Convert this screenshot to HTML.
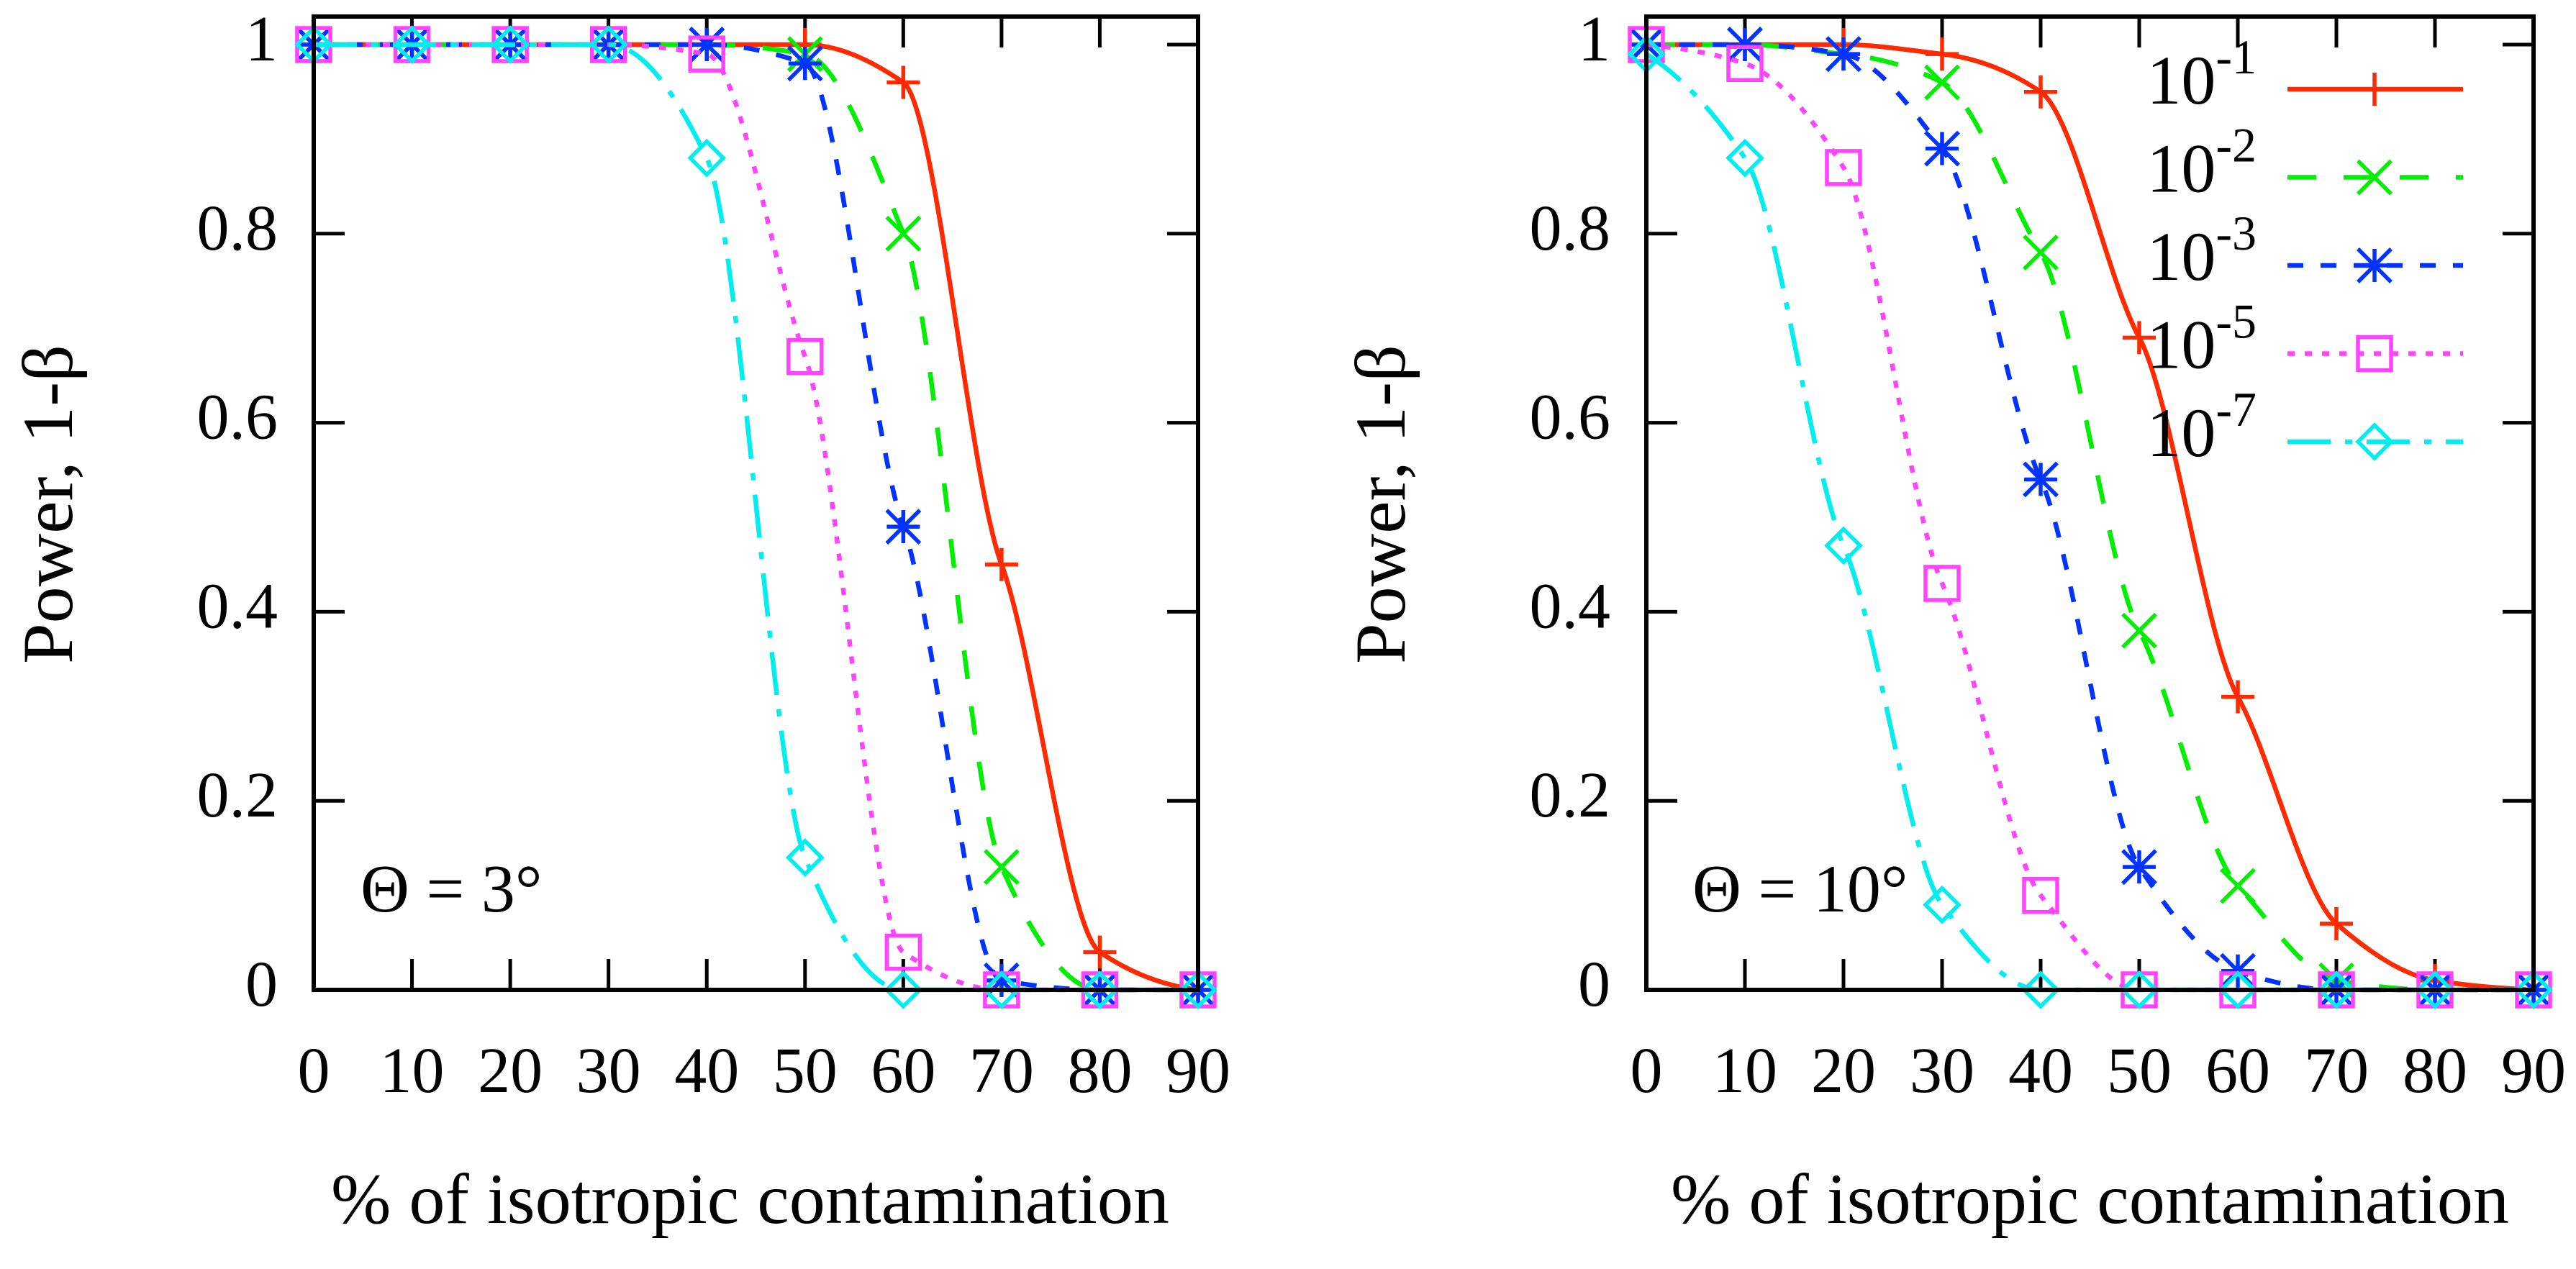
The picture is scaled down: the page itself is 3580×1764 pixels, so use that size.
<!DOCTYPE html>
<html><head><meta charset="utf-8"><style>
html,body{margin:0;padding:0;background:#fff}
svg{display:block}
text{font-family:"Liberation Serif",serif;fill:#000}
</style></head><body>
<svg id="chart" width="3580" height="1764" viewBox="0 0 3580 1764" xmlns="http://www.w3.org/2000/svg"></svg>
<script>
const categories=[0,10,20,30,40,50,60,70,80,90];
const yTicks=[0,0.2,0.4,0.6,0.8,1];
const yTickLabels=["0","0.2","0.4","0.6","0.8","1"];
const seriesNames=["10-1","10-2","10-3","10-5","10-7"];
const legendExps=["-1","-2","-3","-5","-7"];
const leftRed=[1,1,1,1,1,1,0.96,0.45,0.04,0];
const leftGreen=[1,1,1,1,1,0.99,0.80,0.13,0,0];
const leftBlue=[1,1,1,1,1,0.98,0.49,0.01,0,0];
const leftMagenta=[1,1,1,1,0.99,0.67,0.04,0,0,0];
const leftCyan=[1,1,1,1,0.88,0.14,0,0,0,0];
const rightRed=[1,1,1,0.99,0.95,0.69,0.31,0.07,0.01,0];
const rightGreen=[1,1,0.99,0.96,0.78,0.38,0.11,0.01,0,0];
const rightBlue=[1,1,0.99,0.89,0.54,0.13,0.02,0,0,0];
const rightMagenta=[1,0.98,0.87,0.43,0.10,0,0,0,0,0];
const rightCyan=[0.99,0.88,0.47,0.09,0,0,0,0,0,0];

const NS="http://www.w3.org/2000/svg";
const svg=document.getElementById('chart');
function mk(tag,attrs,parent){const e=document.createElementNS(NS,tag);for(const k in attrs)e.setAttribute(k,attrs[k]);(parent||svg).appendChild(e);return e;}
const colors=["#ff2a00","#00ee00","#0033ff","#ff44ff","#00eeee"];
const dashes=["none","40,38","22,24","10,14","60,20,10,20"];
const markers=["plus","cross","star","square","diamond"];

function marker(g,type,x,y,c){
  const s=23,a={stroke:c,'stroke-width':5.5,fill:'none'};
  let d;
  if(type==="plus")d=`M${x-s} ${y}H${x+s}M${x} ${y-s}V${y+s}`;
  else if(type==="cross")d=`M${x-s} ${y-s}L${x+s} ${y+s}M${x-s} ${y+s}L${x+s} ${y-s}`;
  else if(type==="star")d=`M${x-s} ${y}H${x+s}M${x} ${y-s}V${y+s}M${x-s} ${y-s}L${x+s} ${y+s}M${x-s} ${y+s}L${x+s} ${y-s}`;
  else if(type==="square")d=`M${x-s} ${y-s}H${x+s}V${y+s}H${x-s}Z`;
  else d=`M${x} ${y-s}L${x+s} ${y}L${x} ${y+s}L${x-s} ${y}Z`;
  const p=mk('path',Object.assign({d:d},a),g);
  
  
}
function smoothPath(pts){
  const n=pts.length,dx=[],m=[],t=[];
  for(let i=0;i<n-1;i++){dx[i]=pts[i+1][0]-pts[i][0];m[i]=(pts[i+1][1]-pts[i][1])/dx[i];}
  t[0]=m[0];t[n-1]=m[n-2];
  for(let i=1;i<n-1;i++){t[i]=(m[i-1]*m[i]<=0)?0:(m[i-1]+m[i])/2;}
  for(let i=0;i<n-1;i++){if(m[i]===0){t[i]=0;t[i+1]=0;continue;}const a=t[i]/m[i],b=t[i+1]/m[i],h=a*a+b*b;if(h>9){const tau=3/Math.sqrt(h);t[i]=tau*a*m[i];t[i+1]=tau*b*m[i];}}
  let d=`M${pts[0][0]} ${pts[0][1]}`;
  for(let i=0;i<n-1;i++){const h=dx[i]/3,k=0.6;d+=`C${pts[i][0]+h} ${pts[i][1]+t[i]*h*k} ${pts[i+1][0]-h} ${pts[i+1][1]-t[i+1]*h*k} ${pts[i+1][0]} ${pts[i+1][1]}`;}
  return d;
}
function panel(name,x0,x1,series,label,labelX){
  const top=23,bot=1376,y1=62;
  const X=v=>x0+(v-categories[0])/(categories[categories.length-1]-categories[0])*(x1-x0);
  const Y=v=>bot-v*(bot-y1);
  const g=mk('g',{});
  
  
  yTicks.forEach((v,i)=>{
    const y=Y(v);
    const t=mk('path',{d:`M${x0} ${y}h43M${x1} ${y}h-43`,stroke:'#000','stroke-width':5},g);
    
    
    const tx=mk('text',{x:x0-50,y:y+22,'font-size':90,'text-anchor':'end'},g);
    tx.textContent=yTickLabels[i];
    
    
  });
  categories.forEach(v=>{
    const x=X(v);
    const t=mk('path',{d:`M${x} ${bot}v-43M${x} ${top}v43`,stroke:'#000','stroke-width':5},g);
    
    
    const tx=mk('text',{x:x,y:1518,'font-size':90,'text-anchor':'middle'},g);
    tx.textContent=String(v);
    
    
  });
  series.forEach((vals,si)=>{
    const pts=vals.map((v,i)=>[X(categories[i]),Y(v)]);
    const p=mk('path',{d:smoothPath(pts),fill:'none',stroke:colors[si],'stroke-width':6.5,'stroke-dasharray':dashes[si]},g);
    
    
    pts.forEach(pt=>marker(g,markers[si],pt[0],pt[1],colors[si]));
  });
  const frame=mk('rect',{x:x0,y:top,width:x1-x0,height:bot-top,fill:'none',stroke:'#000','stroke-width':6},g);
  
  
  const ann=mk('text',{x:labelX,y:1267,'font-size':94},g);
  ann.textContent=label;
  
  
  const xt=mk('text',{x:(x0+x1)/2+(name==='left-panel'?-8:0),y:1700,'font-size':100,'text-anchor':'middle',textLength:1165,lengthAdjust:'spacingAndGlyphs'},g);
  xt.textContent='% of isotropic contamination';
  
  
  const yt=mk('text',{x:0,y:0,'font-size':100,'text-anchor':'middle',textLength:444,lengthAdjust:'spacingAndGlyphs',transform:`translate(${x0-336},701) rotate(-90)`},g);
  yt.textContent='Power, 1-β';
  
  
}
panel('left-panel',436,1665,[leftRed,leftGreen,leftBlue,leftMagenta,leftCyan],'Θ = 3°',501);
panel('right-panel',2288,3521,[rightRed,rightGreen,rightBlue,rightMagenta,rightCyan],'Θ = 10°',2352);
const lg=mk('g',{});


legendExps.forEach((e,i)=>{
  const y=124+i*122.5;
  const t=mk('text',{x:3136,y:y+20,'font-size':96,'text-anchor':'end'},lg);
  
  
  const b=mk('tspan',{},t);b.textContent='10';
  const s=mk('tspan',{dy:-42,'font-size':68},t);s.textContent=e;
  const l=mk('path',{d:`M3179 ${y}H3423`,stroke:colors[i],'stroke-width':6.5,'stroke-dasharray':dashes[i],fill:'none'},lg);
  
  
  marker(lg,markers[i],3300,y,colors[i]);
});
</script>
</body></html>
